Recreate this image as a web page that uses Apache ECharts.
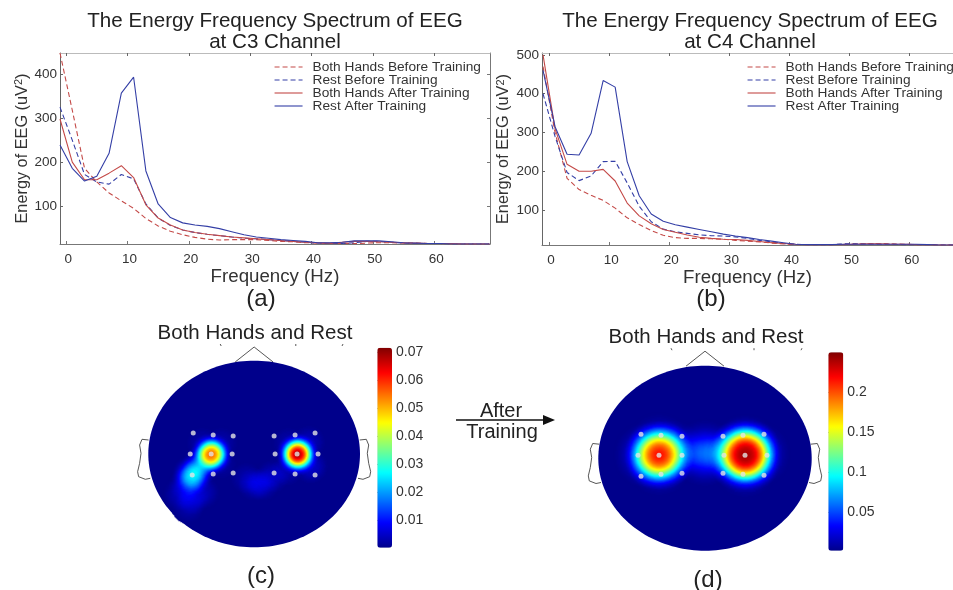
<!DOCTYPE html>
<html>
<head>
<meta charset="utf-8">
<style>html,body{margin:0;padding:0;background:#fff}#c{width:953px;height:590px;filter:blur(0.45px)}</style>
<script src="https://cdn.jsdelivr.net/npm/echarts@6/dist/echarts.min.js"></script>
</head>
<body>
<div id="c"></div>
<script>
const freq = [-1,1,3,5,7,9,11,13,15,17,19,21,23,25,27,29,31,33,35,37,39,41,43,45,47,49,51,53,55,57,59,61,63,65,67,69];
const c3BothBefore = [448,318,186,155,130,112,95,72,55,43,35,29,25,23,24,24,24,22,20,19,17,16,15,15,15,16,17,17,16,16,15,15,14,14,14,14];
const c3RestBefore = [325,250,172,155,150,172,162,105,73,56,46,40,36,33,30,27,26,24,22,20,18,16,15,15,17,20,20,18,16,15,15,15,14,14,14,14];
const c3BothAfter = [298,200,160,160,175,192,165,103,73,57,46,40,36,33,30,28,26,24,22,20,18,17,16,18,20,20,19,18,17,16,15,15,15,14,14,14];
const c3RestAfter = [239,186,157,168,220,357,393,180,105,74,62,57,54,49,42,35,30,27,24,22,20,17,17,18,21,21,21,19,17,16,15,15,14,14,14,14];
const c4BothBefore = [470,300,182,153,138,125,105,80,63,47,35,29,27,27,26,25,22,20,18,15,13,11,11,11,11,12,13,13,14,13,12,11,11,10,10,10];
const c4RestBefore = [400,290,197,176,188,225,226,170,110,70,51,44,40,36,34,33,31,27,22,18,14,12,11,11,11,13,13,13,12,12,11,11,11,10,10,10];
const c4BothAfter = [500,310,218,200,200,205,175,118,85,65,50,43,36,30,27,25,24,22,19,16,14,12,11,11,11,11,12,13,13,12,12,11,11,10,10,10];
const c4RestAfter = [460,315,244,242,298,434,417,225,137,90,71,62,56,50,44,38,33,29,24,20,16,12,11,11,11,12,12,12,12,12,12,12,11,10,10,10];
const seriesNames = ['Both Hands Before Training','Rest Before Training','Both Hands After Training','Rest After Training'];
const xTicks = [0,10,20,30,40,50,60];
const c3Ticks = [100,200,300,400];
const c4Ticks = [100,200,300,400,500];
const barTicksC = [0.01,0.02,0.03,0.04,0.05,0.06,0.07];
const barTicksD = [0.05,0.1,0.15,0.2];
const electrodesC = [[-61,21],[-41,19],[-21,18],[20,18],[41,19],[61,21],[-64,0],[-43,0],[-22,0],[21,0],[43,0],[64,0],[-62,-21],[-41,-20],[-21,-19],[20,-19],[41,-20],[61,-21]];
const electrodesD = [[-64,24],[-44,23],[-23,22],[18,22],[38,23],[59,24],[-67,3],[-46,3],[-23,3],[19,3],[40,3],[62,3],[-64,-18],[-44,-16],[-23,-15],[18,-15],[38,-16],[59,-17]];
const powerC = [[43,0,0.07],[-43,0,0.056],[-62,-21,0.024],[-53,-10,0.012],[-68,-30,0.005],[-74,-40,0.004],[-62,-44,0.004],[-52,-38,0.004],[-66,-52,0.003],
  [54,12,0.004],[56,-12,0.005],[34,11,0.003],[-33,11,0.003],[-52,11,0.003],[-33,-10,0.002],[-8,-24,0.003],[0,-30,0.004],[8,-30,0.004],[18,-22,0.004],[32,-16,0.003]];
const powerD = [[40,3,0.25],[40,3,0.25],[40,9,0.12],[28,4,0.06],[52,4,0.06],[40,-8,0.05],[-46,3,0.2],[-46,3,0.16],[-58,3,0.07],[-34,6,0.07],[-46,13,0.05],[-46,-6,0.05],[0,5,0.08]];
const noseC = [[-19,92],[0,107],[19,92]];
const earLeft = [[-105.7,14],[-112.3,14.7],[-114.7,9],[-113.3,0.7],[-114.7,-9.3],[-116.7,-17.7],[-115.7,-22.7],[-109,-25.3],[-104,-24.3]];
const earRight = [[105.7,14],[112.3,14.7],[114.7,9],[113.3,0.7],[114.7,-9.3],[116.7,-17.7],[115.7,-22.7],[109,-25.3],[104,-24.3]];
const marksC = [[[-34,110],[-33,108]],[[41.7,110],[41.7,108]],[[88,108],[89,110]]];
const marksD = [[[-34,110],[-33,108]],[[49,110],[49,108]],[[96,108],[97,110]]];
const jet = ['#00008b','#0000ff','#0080ff','#00ffff','#80ff80','#ffff00','#ff8000','#ff0000','#800000'];

const RED = '#c44a48', BLUE = '#343fa6', TXT = '#222';
const FONT = '"Liberation Sans", Arial, sans-serif';

function headMap(name, rx, ry) {
  const ring = [];
  for (let i = 0; i <= 180; i++) { const t = i / 180 * 2 * Math.PI; ring.push([rx * Math.cos(t), ry * Math.sin(t)]); }
  echarts.registerMap(name, {type:'FeatureCollection',features:[{type:'Feature',properties:{name:'head'},geometry:{type:'Polygon',coordinates:[ring]}}]});
}
headMap('headC', 106, 93.3);
headMap('headD', 106.7, 92.5);

const chart = echarts.init(document.getElementById('c'), null, {renderer:'canvas'});
const pair = a => freq.map((f,i)=>[f,a[i]]);
function lineSeries(vals, gi) {
  const styles = [[RED,[5,3]],[BLUE,[5,3]],[RED,'solid'],[BLUE,'solid']];
  return vals.map((v,i)=>({type:'line',name:seriesNames[i],xAxisIndex:gi*2,yAxisIndex:gi*2,data:pair(v),symbol:'none',silent:true,animation:false,
    lineStyle:{color:styles[i][0],type:styles[i][1],width:1.1},itemStyle:{color:styles[i][0]}}));
}
function xAxes(gi,min,max){
  return [{type:'value',gridIndex:gi,position:'bottom',min,max,name:'Frequency (Hz)',nameLocation:'middle',nameGap:23,
    nameTextStyle:{fontSize:18.7,color:'#333',fontFamily:FONT},splitLine:{show:false},
    axisLine:{show:true,onZero:false,lineStyle:{color:'#777',width:1}},
    axisTick:{inside:true,length:3,customValues:xTicks,lineStyle:{color:'#777'}},
    axisLabel:{customValues:xTicks,fontSize:13.5,color:'#333',margin:8,padding:[0,0,0,4],fontFamily:FONT}},
   {type:'value',gridIndex:gi,position:'top',min,max,splitLine:{show:false},
    axisLine:{show:true,onZero:false,lineStyle:{color:'#bbb',width:1}},
    axisTick:{inside:true,length:3,customValues:xTicks,lineStyle:{color:'#666'}},axisLabel:{show:false}}];
}
function yAxes(gi,min,max,ticks,rightShow){
  return [{type:'value',gridIndex:gi,position:'left',min,max,name:'Energy of EEG (uV{s|2})',nameLocation:'middle',nameGap:gi?29:26,nameRotate:90,
    nameTextStyle:{fontSize:16.3,color:'#333',fontFamily:FONT,rich:{s:{fontSize:11,color:'#333',padding:[0,0,7,0],fontFamily:FONT}}},splitLine:{show:false},
    axisLine:{show:true,onZero:false,lineStyle:{color:'#666',width:1}},
    axisTick:{inside:true,length:3,customValues:ticks,lineStyle:{color:'#666'}},
    axisLabel:{customValues:ticks,fontSize:13.5,color:'#333',margin:3,fontFamily:FONT}},
   {type:'value',gridIndex:gi,position:'right',min,max,show:rightShow,splitLine:{show:false},
    axisLine:{show:true,onZero:false,lineStyle:{color:'#777',width:1}},
    axisTick:{inside:true,length:3,customValues:ticks,lineStyle:{color:'#777'}},axisLabel:{show:false}}];
}
function txt(text,cx,top,size,lh){
  return {text,left:cx,top,textAlign:'center',padding:0,itemGap:0,
    textStyle:{fontSize:size,fontWeight:'normal',color:TXT,fontFamily:FONT,lineHeight:lh||size+2}};
}
function legend(left){
  return {left,top:60,orient:'vertical',padding:0,itemWidth:28,itemHeight:13,itemGap:-1,itemStyle:{opacity:0},lineStyle:{width:1.1},selectedMode:false,
    data:seriesNames,textStyle:{fontSize:13.7,color:'#333',fontFamily:FONT,padding:[0,0,0,5]}};
}
const option = {
  animation:false,
  backgroundColor:'#fff',
  title:[
    txt('The Energy Frequency Spectrum of EEG\nat C3 Channel',275,11,20.6,21),
    txt('The Energy Frequency Spectrum of EEG\nat C4 Channel',750,11,20.6,21),
    txt('(a)',261,286,24),txt('(b)',711,286,24),
    txt('Both Hands and Rest',255,322,20.5),txt('Both Hands and Rest',706,326,20.5),
    txt('(c)',261,563,24),txt('(d)',708,567,24),
    txt('After',501,400,20),txt('Training',502,421,20)
  ],
  legend:[legend(274),legend(747)],
  grid:[
    {left:60,top:53,width:430,height:191},
    {left:542,top:53,width:411,height:192},
    {left:377.3,top:347.7,width:14.7,height:200},
    {left:828.3,top:352.3,width:15,height:198.4}
  ],
  xAxis:[...xAxes(0,-1,69.1),...xAxes(1,-1.17,67.2),
    {type:'value',gridIndex:2,min:0,max:1,show:false},
    {type:'value',gridIndex:3,min:0,max:1,show:false}],
  yAxis:[...yAxes(0,14,448,c3Ticks,true),...yAxes(1,10,505,c4Ticks,false),
    {type:'value',gridIndex:2,position:'right',min:0.00036,max:0.0716,splitLine:{show:false},axisLine:{show:false},
     axisTick:{show:true,length:2,customValues:barTicksC,lineStyle:{color:'#666'}},
     axisLabel:{customValues:barTicksC,fontSize:14,color:'#333',margin:4,fontFamily:FONT}},
    {type:'value',gridIndex:3,position:'right',min:0.002,max:0.25,splitLine:{show:false},axisLine:{show:false},
     axisTick:{show:true,length:2,customValues:barTicksD,lineStyle:{color:'#666'}},
     axisLabel:{customValues:barTicksD,fontSize:14,color:'#333',margin:4,fontFamily:FONT}}],
  geo:[
    {map:'headC',silent:true,aspectScale:1,left:148.3,top:360.7,width:211.7,height:186.6,roam:false,label:{show:false},
     itemStyle:{areaColor:jet[0],borderWidth:0},tooltip:{show:false}},
    {map:'headD',silent:true,aspectScale:1,left:598.3,top:365.7,width:213.4,height:185,roam:false,label:{show:false},
     itemStyle:{areaColor:jet[0],borderWidth:0},tooltip:{show:false}}
  ],
  visualMap:[
    {type:'continuous',min:0.00036,max:0.0716,seriesIndex:8,left:377.3,top:347.7,itemWidth:14.7,itemHeight:200,padding:0,calculable:false,text:null,showLabel:false,inRange:{color:jet}},
    {type:'continuous',min:0.002,max:0.25,seriesIndex:9,left:828.3,top:352.3,itemWidth:15,itemHeight:198.4,padding:0,calculable:false,text:null,showLabel:false,inRange:{color:jet}}
  ],
  series:[
    ...lineSeries([c3BothBefore,c3RestBefore,c3BothAfter,c3RestAfter],0),
    ...lineSeries([c4BothBefore,c4RestBefore,c4BothAfter,c4RestAfter],1),
    {type:'heatmap',coordinateSystem:'geo',geoIndex:0,data:powerC,pointSize:12,blurSize:10,minOpacity:1,maxOpacity:1,silent:true},
    {type:'heatmap',coordinateSystem:'geo',geoIndex:1,data:powerD,pointSize:16,blurSize:20,minOpacity:1,maxOpacity:1,silent:true},
    {type:'scatter',coordinateSystem:'geo',geoIndex:0,data:electrodesC,symbolSize:5,itemStyle:{color:'#e4e4e4'},silent:true,z:5},
    {type:'scatter',coordinateSystem:'geo',geoIndex:1,data:electrodesD,symbolSize:5,itemStyle:{color:'#e4e4e4'},silent:true,z:5},
    {type:'lines',coordinateSystem:'geo',geoIndex:0,polyline:true,silent:true,z:1,lineStyle:{color:'#444',width:0.9,opacity:1},
     data:[{coords:noseC},{coords:earLeft},{coords:earRight},...marksC.map(m=>({coords:m}))]},
    {type:'lines',coordinateSystem:'geo',geoIndex:1,polyline:true,silent:true,z:1,lineStyle:{color:'#444',width:0.9,opacity:1},
     data:[{coords:noseC},{coords:earLeft},{coords:earRight},...marksD.map(m=>({coords:m}))]}
  ],
  graphic:[
    {type:'line',shape:{x1:456,y1:420,x2:545,y2:420},style:{stroke:'#111',lineWidth:1.6}},
    {type:'polygon',shape:{points:[[543,415],[555,420],[543,425]]},style:{fill:'#111'}}
  ]
};
chart.setOption(option);
</script>
</body>
</html>
